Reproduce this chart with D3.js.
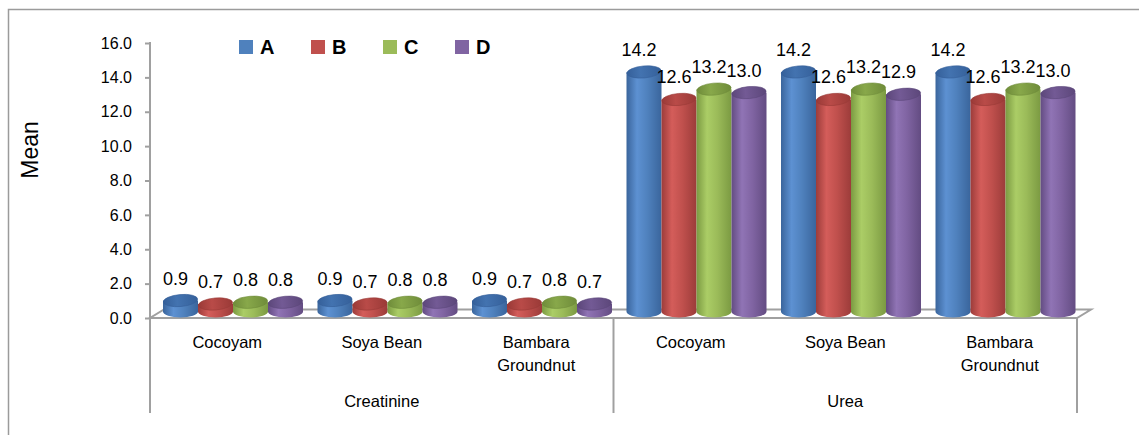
<!DOCTYPE html>
<html>
<head>
<meta charset="utf-8">
<script src="https://cdn.jsdelivr.net/npm/d3@7"></script>
<style>
  html, body { margin: 0; padding: 0; background: #fff; }
  svg { display: block; }
</style>
</head>
<body>
<svg id="chart" width="1139" height="435"></svg>
<script>
// Mean creatinine and urea by diet (Cocoyam, Soya Bean, Bambara Groundnut) for groups A–D
const groups = ["Creatinine", "Urea"];
const diets = ["Cocoyam", "Soya Bean", "Bambara Groundnut"];
const seriesNames = ["A", "B", "C", "D"];

const creatinineA = [0.9, 0.9, 0.9];
const creatinineB = [0.7, 0.7, 0.7];
const creatinineC = [0.8, 0.8, 0.8];
const creatinineD = [0.8, 0.8, 0.7];

const ureaA = [14.2, 14.2, 14.2];
const ureaB = [12.6, 12.6, 12.6];
const ureaC = [13.2, 13.2, 13.2];
const ureaD = [13.0, 12.9, 13.0];

const yTicks = [0, 2, 4, 6, 8, 10, 12, 14, 16];

const seriesColors = {
  A: { base: "#4F81BD", light: "#5d91d2", dark: "#3a659c", top: "#4373b0", topDark: "#35609a" },
  B: { base: "#C0504D", light: "#d45d5a", dark: "#9c3c3a", top: "#b94b48", topDark: "#9a3a37" },
  C: { base: "#9BBB59", light: "#abcd66", dark: "#7b9a42", top: "#88a84a", topDark: "#6f8c3a" },
  D: { base: "#8064A2", light: "#9074b5", dark: "#634c82", top: "#735a95", topDark: "#5c477a" }
};

// Flatten into rows: one row per (group, diet)
const valuesByGroup = {
  Creatinine: [creatinineA, creatinineB, creatinineC, creatinineD],
  Urea: [ureaA, ureaB, ureaC, ureaD]
};
const categories = [];
groups.forEach(g => diets.forEach((d, i) => {
  categories.push({
    key: g + "|" + d, group: g, diet: d,
    values: seriesNames.map((s, si) => ({ series: s, value: valuesByGroup[g][si][i] }))
  });
}));

const svg = d3.select("#chart");
const font = "'Liberation Sans', Arial, sans-serif";
const axisGrey = "#a0a0a0";

// Outer chart frame
svg.append("rect")
  .attr("x", 8.5).attr("y", 9.5).attr("width", 1300).attr("height", 600)
  .attr("fill", "none").attr("stroke", "#9b9b9b").attr("stroke-width", 1.5);

// Scales
const x0 = d3.scaleBand().domain(categories.map(c => c.key)).range([150, 1077]).padding(0);
const x1 = d3.scaleBand().domain(seriesNames).range([13, 153]).padding(0);
const y = d3.scaleLinear().domain([0, 16]).range([318, 43]);
const depthX = 14, depthY = 8.5;

// Gradients for cylinder shading
const defs = svg.append("defs");
seriesNames.forEach(s => {
  const c = seriesColors[s];
  const g = defs.append("linearGradient").attr("id", "body" + s)
    .attr("x1", "0%").attr("x2", "100%").attr("y1", "0%").attr("y2", "0%");
  g.append("stop").attr("offset", "0%").attr("stop-color", c.dark);
  g.append("stop").attr("offset", "30%").attr("stop-color", c.light);
  g.append("stop").attr("offset", "60%").attr("stop-color", c.base);
  g.append("stop").attr("offset", "100%").attr("stop-color", c.dark);
  const t = defs.append("linearGradient").attr("id", "top" + s)
    .attr("x1", "0%").attr("x2", "100%").attr("y1", "0%").attr("y2", "0%");
  t.append("stop").attr("offset", "0%").attr("stop-color", c.topDark);
  t.append("stop").attr("offset", "40%").attr("stop-color", c.top);
  t.append("stop").attr("offset", "100%").attr("stop-color", c.topDark);
});

// Floor (3D base plane)
const fx0 = x0.range()[0], fx1 = x0.range()[1], fy = y(0);
svg.append("path")
  .attr("d", `M${fx0},${fy} L${fx1},${fy} L${fx1 + depthX},${fy - depthY} L${fx0 + depthX},${fy - depthY} Z`)
  .attr("fill", "none").attr("stroke", axisGrey).attr("stroke-width", 2);

// Value axis
const yAxis = d3.axisLeft(y).tickValues(yTicks).tickFormat(d3.format(".1f"))
  .tickSize(5).tickPadding(13);
const yg = svg.append("g").attr("transform", `translate(150,0)`).call(yAxis);
yg.select(".domain").remove();
yg.selectAll(".tick line").attr("stroke", axisGrey).attr("stroke-width", 2);
yg.selectAll(".tick text").attr("font-family", font).attr("font-size", 16).attr("fill", "#000");
svg.append("line").attr("x1", 150).attr("x2", 150).attr("y1", y(16) - 1).attr("y2", y(0) + 1)
  .attr("stroke", axisGrey).attr("stroke-width", 2);

// Axis title
svg.append("text")
  .attr("transform", "translate(38,150) rotate(-90)")
  .attr("text-anchor", "middle")
  .attr("font-family", font).attr("font-size", 23).attr("fill", "#000")
  .text("Mean");

// Cylinders
const ry = 6;
const yBottomC = y(0) - ry - 0.5;
const barG = svg.append("g");
categories.forEach(cat => {
  const g = barG.append("g").attr("transform", `translate(${x0(cat.key)},0)`);
  cat.values.forEach(d => {
    const bx = x1(d.series), w = x1.bandwidth(), rx = w / 2;
    const cx = bx + rx;
    const yTopC = y(d.value) - 2;
    // body
    g.append("path")
      .attr("d", `M${bx},${yTopC} L${bx},${yBottomC} A${rx},${ry} 0 0 0 ${bx + w},${yBottomC} L${bx + w},${yTopC} Z`)
      .attr("fill", `url(#body${d.series})`);
    // top cap
    g.append("ellipse")
      .attr("cx", cx).attr("cy", yTopC).attr("rx", rx - 0.3).attr("ry", ry)
      .attr("transform", `rotate(-5,${cx},${yTopC})`)
      .attr("fill", `url(#top${d.series})`)
      .attr("stroke", seriesColors[d.series].topDark).attr("stroke-width", 0.6);
  });
});

// Data labels
const fmt = d3.format(".1f");
categories.forEach(cat => {
  cat.values.forEach(d => {
    svg.append("text")
      .attr("x", x0(cat.key) + x1(d.series) + x1.bandwidth() / 2 - 5)
      .attr("y", y(d.value) - 18)
      .attr("text-anchor", "middle")
      .attr("font-family", font).attr("font-size", 18).attr("fill", "#000")
      .text(fmt(d.value));
  });
});

// Category axis: diet labels
categories.forEach(cat => {
  const words = cat.diet === "Bambara Groundnut" ? ["Bambara", "Groundnut"] : [cat.diet];
  const t = svg.append("text")
    .attr("text-anchor", "middle")
    .attr("font-family", font).attr("font-size", 16.5).attr("fill", "#000");
  words.forEach((wd, i) => {
    t.append("tspan").attr("x", x0(cat.key) + x0.bandwidth() / 2)
      .attr("y", 348 + i * 23).text(wd);
  });
});

// Category axis: group labels and separators
const groupScale = d3.scaleBand().domain(groups).range(x0.range()).padding(0);
groups.forEach(gname => {
  svg.append("text")
    .attr("x", groupScale(gname) + groupScale.bandwidth() / 2)
    .attr("y", 407)
    .attr("text-anchor", "middle")
    .attr("font-family", font).attr("font-size", 16.5).attr("fill", "#000")
    .text(gname);
});
const sepXs = groups.map(g => groupScale(g)).concat([x0.range()[1]]);
svg.selectAll(".sep").data(sepXs).enter().append("line")
  .attr("x1", d => d).attr("x2", d => d)
  .attr("y1", y(0)).attr("y2", 413)
  .attr("stroke", axisGrey).attr("stroke-width", 2);

// Legend
const legendX = d3.scalePoint().domain(seriesNames).range([239, 455]);
const lg = svg.append("g");
seriesNames.forEach(s => {
  lg.append("rect").attr("x", legendX(s)).attr("y", 40).attr("width", 14).attr("height", 14)
    .attr("fill", seriesColors[s].base);
  lg.append("text").attr("x", legendX(s) + 21).attr("y", 54)
    .attr("font-family", font).attr("font-size", 20).attr("font-weight", "bold").attr("fill", "#000")
    .text(s);
});
</script>
</body>
</html>
